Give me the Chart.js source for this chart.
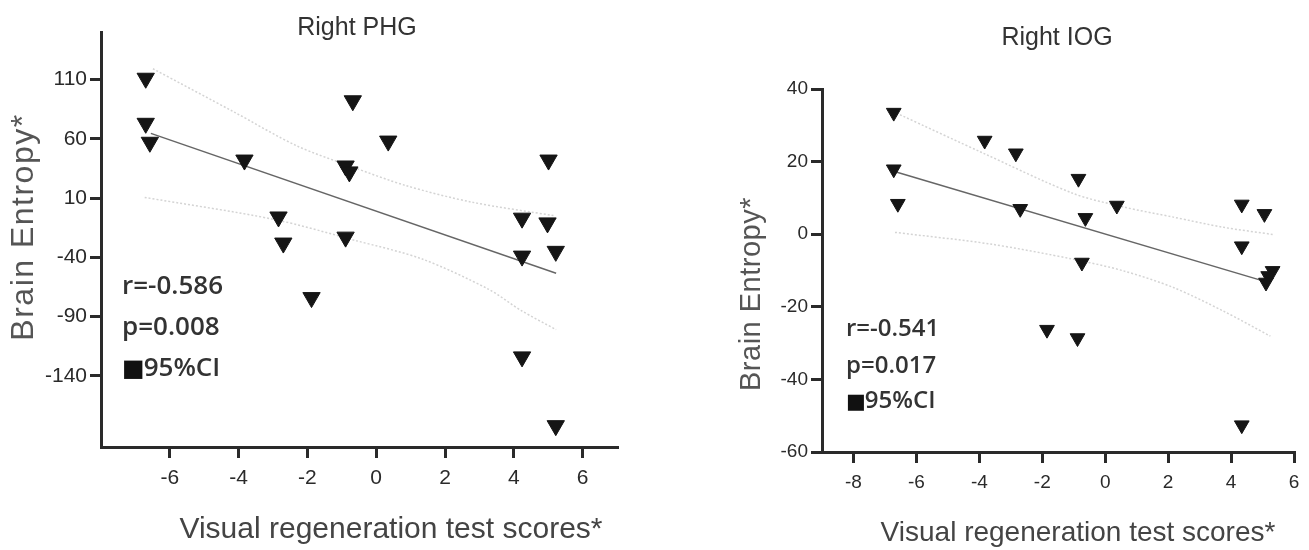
<!DOCTYPE html>
<html>
<head>
<meta charset="utf-8">
<script src="https://cdn.jsdelivr.net/npm/chart.js@4.4.1/dist/chart.umd.min.js"></script>
<style>
  body { margin: 0; background: #fff; }
  #wrap { position: relative; width: 1309px; height: 550px; }
  canvas { position: absolute; top: 0; }
</style>
</head>
<body>
<div id="wrap">
  <canvas id="phgChart" width="660" height="550" style="left:0"></canvas>
  <canvas id="iogChart" width="649" height="550" style="left:660px"></canvas>
</div>
<script>
// Right PHG
const phgX = [-6.70, -6.70, -6.58, -3.83, -0.68, 0.35, -0.89, -0.78, -2.84, -2.70, -0.89, -1.88, 5.01, 4.24, 4.98, 4.24, 5.22, 4.24, 5.22];
const phgY = [111, 73, 57, 42, 92, 58, 37, 32, -6, -28, -23, -74, 42, -7, -11, -39, -35, -124, -182];
const phgFitX = [-6.55, 5.23];
const phgFitY = [64.5, -53.5];
const phgUpperX = [-6.49, -4.13, -2.31, -0.77, 0.86, 2.78, 5.19];
const phgUpperY = [119, 82.5, 54, 37, 20.5, 6.5, -5];
const phgLowerX = [-6.73, -2.98, -0.58, 1.34, 3.27, 4.22, 5.23];
const phgLowerY = [10.5, -8, -26, -41.5, -67, -85, -101];
const phgXTicks = [-6, -4, -2, 0, 2, 4, 6];
const phgYTicks = [-140, -90, -40, 10, 60, 110];

// Right IOG
const iogX = [-6.72, -6.72, -6.59, -3.83, -2.84, -2.70, -0.85, -0.63, -0.74, 0.37, -1.85, -0.88, 4.34, 5.06, 4.34, 5.32, 5.18, 5.11, 4.34];
const iogY = [33.5, 17.9, 8.4, 25.8, 22.3, 7.0, 15.3, 4.5, -7.8, 7.9, -26.3, -28.6, 8.2, 5.6, -3.3, -10.1, -11.5, -13.3, -52.6];
const iogFitX = [-6.67, 5.15];
const iogFitY = [17.2, -13.2];
const iogUpperX = [-6.52, -3.87, -1.01, 0.58, 2.17, 3.76, 5.35];
const iogUpperY = [32.9, 22.3, 11.2, 7.5, 4.7, 1.9, -0.1];
const iogLowerX = [-6.68, -3.66, -1.01, 0.58, 2.17, 3.76, 5.25];
const iogLowerY = [0.5, -2.7, -6.9, -10.1, -14.7, -21.2, -28.1];
const iogXTicks = [-8, -6, -4, -2, 0, 2, 4, 6];
const iogYTicks = [-60, -40, -20, 0, 20, 40];

function pairs(xs, ys) {
    return xs.map((x, i) => ({ x: x, y: ys[i] }));
}

// titles, axis titles and r/p text
const textLayer = {
    id: 'textLayer',
    afterDraw(chart, args, o) {
        const ctx = chart.ctx;
        ctx.save();
        ctx.fillStyle = '#333';
        ctx.font = o.titleFont;
        ctx.textAlign = 'center';
        ctx.textBaseline = 'alphabetic';
        ctx.fillText(o.title, o.titleX, o.titleY);

        ctx.fillStyle = '#444';
        ctx.font = o.xTitleFont;
        ctx.textBaseline = 'middle';
        ctx.fillText('Visual regeneration test scores*', o.xTitleX, o.xTitleY);

        ctx.save();
        ctx.translate(o.yTitleX, o.yTitleY);
        ctx.rotate(-Math.PI / 2);
        ctx.font = o.yTitleFont;
        ctx.letterSpacing = o.yTitleSpacing;
        ctx.fillStyle = '#555';
        ctx.fillText('Brain Entropy*', 0, 0);
        ctx.restore();

        ctx.fillStyle = '#333';
        ctx.font = o.statFont;
        ctx.textAlign = 'left';
        ctx.textBaseline = 'alphabetic';
        ctx.fillText(o.stats[0], o.statX, o.statY[0]);
        ctx.fillText(o.stats[1], o.statX, o.statY[1]);
        // square before 95%CI
        ctx.fillStyle = '#111';
        ctx.font = o.squareFont;
        ctx.fillText('■', o.statX, o.statY[2]);
        const w = ctx.measureText('■').width;
        ctx.fillStyle = '#333';
        ctx.font = o.statFont;
        ctx.fillText(o.stats[2], o.statX + w - 1, o.statY[2]);
        ctx.restore();
    }
};

function makeChart(id, d) {
    const ctx = document.getElementById(id).getContext('2d');
    return new Chart(ctx, {
        type: 'scatter',
        data: {
            datasets: [{
                label: 'points',
                data: pairs(d.x, d.y),
                pointStyle: 'triangle',
                rotation: 180,
                pointRadius: d.markerSize,
                backgroundColor: '#151515',
                borderColor: '#151515',
                borderWidth: 1
            }, {
                label: 'fit',
                data: pairs(d.fitX, d.fitY),
                showLine: true,
                pointRadius: 0,
                borderColor: '#666',
                borderWidth: 1.5
            }, {
                label: 'upper',
                data: pairs(d.upX, d.upY),
                showLine: true,
                pointRadius: 0,
                tension: 0.3,
                borderColor: '#d4d4d4',
                borderWidth: 1.5,
                borderDash: [2, 2]
            }, {
                label: 'lower',
                data: pairs(d.loX, d.loY),
                showLine: true,
                pointRadius: 0,
                tension: 0.3,
                borderColor: '#d4d4d4',
                borderWidth: 1.5,
                borderDash: [2, 2]
            }]
        },
        options: {
            responsive: false,
            animation: false,
            layout: { padding: d.padding },
            plugins: {
                legend: { display: false },
                tooltip: { enabled: false },
                textLayer: d.text
            },
            scales: {
                x: {
                    type: 'linear',
                    min: d.xMin,
                    max: d.xMax,
                    afterBuildTicks: s => { s.ticks = d.xTicks.map(v => ({ value: v })); },
                    afterFit: s => { s.height = d.xAxisHeight; },
                    border: { display: true, color: '#2a2a2a', width: 3 },
                    grid: { drawOnChartArea: false, drawTicks: true, tickLength: 11, color: '#2a2a2a', lineWidth: 3 },
                    ticks: { color: '#2a2a2a', padding: 8, font: { family: 'Liberation Sans', size: d.tickSize } }
                },
                y: {
                    type: 'linear',
                    min: d.yMin,
                    max: d.yMax,
                    afterBuildTicks: s => { s.ticks = d.yTicks.map(v => ({ value: v })); },
                    afterFit: s => { s.width = d.yAxisWidth; },
                    border: { display: true, color: '#2a2a2a', width: 3 },
                    grid: { drawOnChartArea: false, drawTicks: true, tickLength: 11, color: '#2a2a2a', lineWidth: 3 },
                    ticks: { color: '#2a2a2a', padding: 3, font: { family: 'Liberation Sans', size: d.tickSize } }
                }
            }
        },
        plugins: [textLayer]
    });
}

makeChart('phgChart', {
    x: phgX, y: phgY, fitX: phgFitX, fitY: phgFitY,
    upX: phgUpperX, upY: phgUpperY, loX: phgLowerX, loY: phgLowerY,
    xTicks: phgXTicks, yTicks: phgYTicks,
    xMin: -8, xMax: 7, yMin: -200, yMax: 150,
    markerSize: 10, tickSize: 21,
    padding: { left: 0, top: 32, right: 43, bottom: 0 },
    yAxisWidth: 101, xAxisHeight: 103,
    text: {
        title: 'Right PHG', titleFont: '25px "Liberation Sans"', titleX: 357, titleY: 35,
        xTitleFont: '30px "Liberation Sans"', xTitleX: 391, xTitleY: 530,
        yTitleFont: '32px "Liberation Sans"', yTitleSpacing: '1.5px', yTitleX: 24, yTitleY: 227,
        statFont: '600 26px "Open Sans", "DejaVu Sans"', squareFont: '24px "DejaVu Sans"', statX: 122,
        stats: ['r=-0.586', 'p=0.008', '95%CI'], statY: [294, 335, 376]
    }
});

makeChart('iogChart', {
    x: iogX, y: iogY, fitX: iogFitX, fitY: iogFitY,
    upX: iogUpperX, upY: iogUpperY, loX: iogLowerX, loY: iogLowerY,
    xTicks: iogXTicks, yTicks: iogYTicks,
    xMin: -9, xMax: 6, yMin: -60, yMax: 40,
    markerSize: 8.5, tickSize: 19,
    padding: { left: 0, top: 89, right: 15, bottom: 0 },
    yAxisWidth: 162, xAxisHeight: 98,
    text: {
        title: 'Right IOG', titleFont: '25px "Liberation Sans"', titleX: 397, titleY: 45,
        xTitleFont: '28px "Liberation Sans"', xTitleX: 418, xTitleY: 533,
        yTitleFont: '29px "Liberation Sans"', yTitleSpacing: '0.5px', yTitleX: 92, yTitleY: 294,
        statFont: '600 24px "Open Sans", "DejaVu Sans"', squareFont: '21px "DejaVu Sans"', statX: 186,
        stats: ['r=-0.541', 'p=0.017', '95%CI'], statY: [336, 373, 408]
    }
});
</script>
</body>
</html>
